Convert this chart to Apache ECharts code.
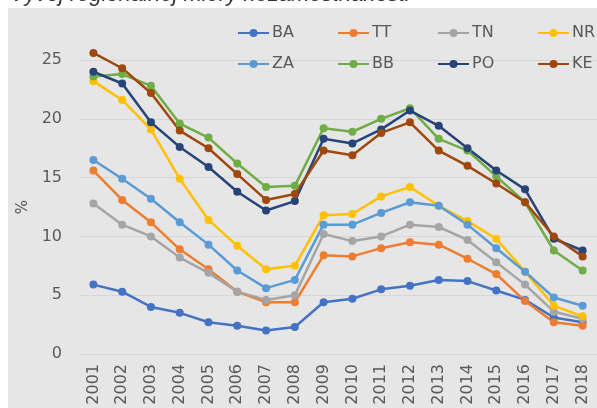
<!DOCTYPE html>
<html>
<head>
<meta charset="utf-8">
<script src="https://cdn.jsdelivr.net/npm/echarts@6/dist/echarts.min.js"></script>
<style>
  html, body { margin: 0; padding: 0; background: #fff; }
  #chart { width: 597px; height: 408px; }
</style>
</head>
<body>
<div id="chart"></div>
<script>
// roky a miery nezamestnanosti podla krajov (%)
const years = ['2001','2002','2003','2004','2005','2006','2007','2008','2009',
  '2010','2011','2012','2013','2014','2015','2016','2017','2018'];
const BA = [5.9, 5.3, 4.0, 3.5, 2.7, 2.4, 2.0, 2.3, 4.4, 4.7, 5.5, 5.8, 6.3, 6.2, 5.4, 4.6, 3.1, 2.7];
const TT = [15.6, 13.1, 11.2, 8.9, 7.2, 5.3, 4.4, 4.4, 8.4, 8.3, 9.0, 9.5, 9.3, 8.1, 6.8, 4.5, 2.7, 2.4];
const TN = [12.8, 11.0, 10.0, 8.2, 6.9, 5.3, 4.6, 5.0, 10.2, 9.6, 10.0, 11.0, 10.8, 9.7, 7.8, 5.9, 3.6, 3.0];
const NR = [23.2, 21.6, 19.1, 14.9, 11.4, 9.2, 7.2, 7.5, 11.8, 11.9, 13.4, 14.2, 12.6, 11.3, 9.8, 7.0, 4.1, 3.2];
const ZA = [16.5, 14.9, 13.2, 11.2, 9.3, 7.1, 5.6, 6.3, 11.0, 11.0, 12.0, 12.9, 12.6, 11.0, 9.0, 7.0, 4.8, 4.1];
const BB = [23.6, 23.8, 22.8, 19.6, 18.4, 16.2, 14.2, 14.3, 19.2, 18.9, 20.0, 20.9, 18.3, 17.3, 15.1, 12.9, 8.8, 7.1];
const PO = [24.0, 23.0, 19.7, 17.6, 15.9, 13.8, 12.2, 13.0, 18.3, 17.9, 19.1, 20.7, 19.4, 17.5, 15.6, 14.0, 9.8, 8.8];
const KE = [25.6, 24.3, 22.2, 19.0, 17.5, 15.3, 13.1, 13.6, 17.3, 16.9, 18.8, 19.7, 17.3, 16.0, 14.5, 12.9, 10.0, 8.3];
const yTicks = [0, 5, 10, 15, 20, 25];

const names = ['BA', 'TT', 'TN', 'NR', 'ZA', 'BB', 'PO', 'KE'];
const values = [BA, TT, TN, NR, ZA, BB, PO, KE];
const colors = ['#4472c4', '#ed7d31', '#a5a5a5', '#ffc000', '#5b9bd5', '#70ad47', '#264478', '#9e480e'];

const font = 'DejaVu Sans';
const txt = '#595959';

const myChart = echarts.init(document.getElementById('chart'));

// legenda: 2 riadky po 4 polozkach, kazda polozka zvlast aby stlpce sedeli
const legends = names.map((n, i) => ({
  data: [n],
  left: 237 + (i % 4) * 100,
  top: i < 4 ? 25 : 56,
  padding: 0,
  itemWidth: 31,
  itemHeight: 10,
  itemGap: 0,
  textStyle: { fontFamily: font, fontSize: 16, color: txt, padding: [0, 0, 0, -2] }
}));

const option = {
  animation: false,
  color: colors,
  graphic: [
    {
      type: 'rect', left: 8, top: 8, z: -10,
      shape: { width: 589, height: 400 },
      style: { fill: '#e7e6e6' }
    },
    {
      type: 'text', left: 10, top: -16, z: 10,
      style: {
        text: 'Vývoj regionálnej miery nezamestnanosti',
        font: 'italic 22px "Liberation Sans"',
        fill: '#333333'
      }
    }
  ],
  legend: legends,
  grid: { left: 79, top: 60, width: 519, height: 294 },
  xAxis: {
    type: 'category',
    data: years,
    boundaryGap: true,
    axisLine: { show: false },
    axisTick: { show: false },
    axisLabel: { rotate: 90, margin: 10, fontFamily: font, fontSize: 16, color: txt }
  },
  yAxis: {
    type: 'value',
    min: yTicks[0],
    max: yTicks[yTicks.length - 1],
    interval: 5,
    name: '%',
    nameLocation: 'middle',
    nameRotate: 90,
    nameGap: 43,
    nameTextStyle: { fontFamily: font, fontSize: 15, color: txt },
    axisLine: { show: false },
    axisTick: { show: false },
    axisLabel: { margin: 17, fontFamily: font, fontSize: 16, color: txt },
    splitLine: { lineStyle: { color: '#d6d6d6', width: 1 } }
  },
  series: names.map((n, i) => ({
    name: n,
    type: 'line',
    data: values[i],
    clip: false,
    symbol: 'circle',
    symbolSize: 8,
    lineStyle: { width: 2.5 },
    itemStyle: { color: colors[i] }
  }))
};

myChart.setOption(option);
</script>
</body>
</html>
